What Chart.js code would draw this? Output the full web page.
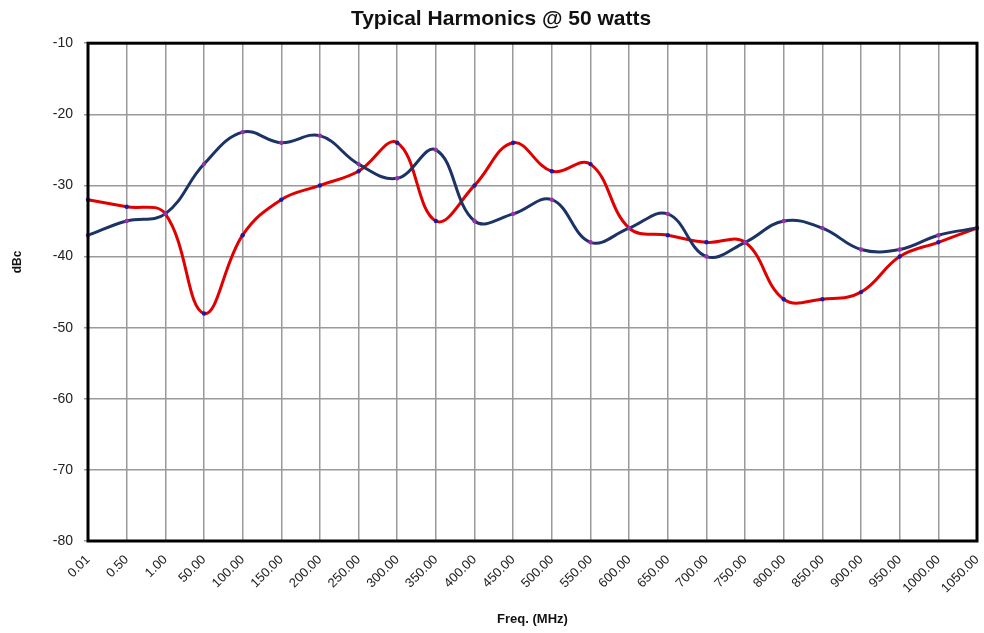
<!DOCTYPE html>
<html>
<head>
<meta charset="utf-8">
<script src="https://cdn.jsdelivr.net/npm/chart.js@4/dist/chart.umd.min.js"></script>
<style>
   html, body { margin: 0; padding: 0; background: #fff; }
   #wrap { width: 984px; height: 633px; }
</style>
</head>
<body>
<div id="wrap"><canvas id="chart" width="984" height="633"></canvas></div>
<script>
const freqLabels = ['0.01', '0.50', '1.00', '50.00', '100.00', '150.00', '200.00', '250.00',
   '300.00', '350.00', '400.00', '450.00', '500.00', '550.00', '600.00', '650.00', '700.00',
   '750.00', '800.00', '850.00', '900.00', '950.00', '1000.00', '1050.00']

// синяя кривая
const navySeries = [-37, -35, -34, -27, -22.5, -24, -23, -27, -29, -25, -35, -34, -32, -38,
   -36, -34, -40, -38, -35, -36, -39, -39, -37, -36]

// красная кривая
const redSeries = [-32, -33, -34, -48, -37, -32, -30, -28, -24, -35, -30, -24, -28, -27,
   -36, -37, -38, -38, -46, -46, -45, -40, -38, -36]

const yTicks = [-80, -70, -60, -50, -40, -30, -20, -10]

const FONT = "'Liberation Sans', Arial, sans-serif"

// рамка вокруг области графика + подпись оси Y
const framePlugin = {
   id: 'frame',
   afterDraw(chart) {
      const { ctx, chartArea: a } = chart
      ctx.save()
      ctx.strokeStyle = '#000'
      ctx.lineWidth = 3
      ctx.strokeRect(a.left, a.top, a.right - a.left, a.bottom - a.top)
      ctx.translate(18, 262)
      ctx.rotate(-Math.PI / 2)
      ctx.fillStyle = '#111'
      ctx.font = 'bold 12px ' + FONT
      ctx.textAlign = 'center'
      ctx.textBaseline = 'middle'
      ctx.fillText('dBc', 0, 0)
      ctx.restore()
   }
}

new Chart(document.getElementById('chart'), {
   type: 'line',
   data: {
      labels: freqLabels,
      datasets: [{
         data: navySeries,
         borderColor: '#1c3366',
         borderWidth: 3,
         pointRadius: 2.2,
         pointBackgroundColor: '#9a2fb0',
         pointBorderWidth: 0,
         tension: 0.4,
         fill: false
      }, {
         data: redSeries,
         borderColor: '#e00000',
         borderWidth: 3,
         pointRadius: 2.2,
         pointBackgroundColor: '#1a1aa8',
         pointBorderWidth: 0,
         tension: 0.4,
         fill: false
      }]
   },
   options: {
      responsive: false,
      animation: false,
      layout: { padding: { left: 25, right: 7, top: 0, bottom: 0 } },
      plugins: {
         legend: { display: false },
         tooltip: { enabled: false },
         title: {
            display: true,
            text: 'Typical Harmonics @ 50 watts',
            color: '#111',
            font: { family: FONT, size: 21, weight: 'bold' },
            padding: { top: 7, bottom: 11 }
         }
      },
      scales: {
         x: {
            offset: false,
            afterFit: s => {
               s.height = 92
               s.paddingLeft = 0
               s.paddingRight = 0
            },
            border: { display: false },
            grid: { color: '#9a9a9a', lineWidth: 1.5, drawTicks: false },
            ticks: {
               color: '#222',
               font: { family: FONT, size: 13 },
               maxRotation: 45,
               minRotation: 45,
               autoSkip: false,
               padding: 11
            },
            title: {
               display: true,
               text: 'Freq. (MHz)',
               color: '#111',
               font: { family: FONT, size: 13, weight: 'bold' },
               padding: { top: 0, bottom: 6 }
            }
         },
         y: {
            min: -80,
            max: -10,
            afterFit: s => { s.width = 63 },
            afterBuildTicks: s => { s.ticks = yTicks.map(v => ({ value: v })) },
            border: { display: false },
            grid: { color: '#9a9a9a', lineWidth: 1.5, tickLength: 4 },
            ticks: {
               color: '#222',
               font: { family: FONT, size: 14 },
               padding: 11
            }
         }
      }
   },
   plugins: [framePlugin]
})
</script>
</body>
</html>
